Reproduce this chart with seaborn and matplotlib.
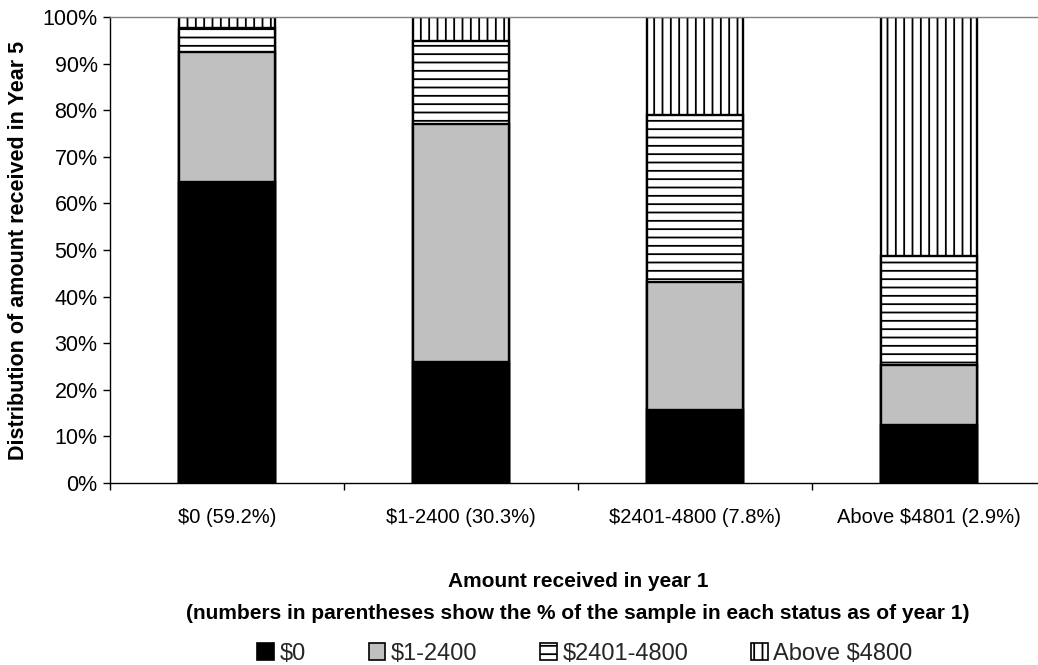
import matplotlib
matplotlib.use("Agg")
import matplotlib.pyplot as plt
from matplotlib.patches import Patch
from matplotlib.ticker import FixedLocator, PercentFormatter
import numpy as np
import pandas as pd
import seaborn as sns

# Year-1 status groups (share of sample in parentheses)
categories = ["$0 (59.2%)", "$1-2400 (30.3%)", "$2401-4800 (7.8%)", "Above $4801 (2.9%)"]

# Distribution of amount received in Year 5, % of each group
series_names = ["$0", "$1-2400", "$2401-4800", "Above $4800"]
share_zero = [64.5, 26.0, 15.6, 12.4]
share_1_2400 = [28.0, 51.0, 27.6, 13.0]
share_2401_4800 = [5.1, 17.8, 35.7, 23.4]
share_above_4800 = [2.4, 5.2, 21.1, 51.2]

sns.set_theme(style="white")
plt.rcParams["font.family"] = ["Liberation Sans", "DejaVu Sans"]
plt.rcParams["hatch.linewidth"] = 1.3
plt.rcParams["hatch.color"] = "black"

fills = ["#000000", "#C0C0C0", "#FFFFFF", "#FFFFFF"]
hatches = [None, None, "--", "||"]

shares = np.array([share_zero, share_1_2400, share_2401_4800, share_above_4800])
tops = np.cumsum(shares, axis=0)

fig = plt.figure(figsize=(10.38, 6.65), dpi=100)
ax = fig.add_axes([110 / 1038, (665 - 483) / 665, 936 / 1038, 466 / 665])

# Stack by overlaying cumulative bars, tallest first
for i in reversed(range(len(series_names))):
    df = pd.DataFrame({"status": categories, "top": tops[i]})
    sns.barplot(data=df, x="status", y="top", ax=ax, color=fills[i],
                saturation=1, width=0.41, edgecolor="black", linewidth=1.7,
                hatch=hatches[i], errorbar=None)

ax.set_ylim(0, 100)
ax.set_xlim(-0.5, 3.5)
ax.yaxis.set_major_locator(FixedLocator(np.arange(0, 101, 10)))
ax.yaxis.set_major_formatter(PercentFormatter(decimals=0))

ax.tick_params(axis="y", which="major", direction="out", length=5, width=1,
               color="black", left=True, labelsize=15.5, labelcolor="black", pad=4)
ax.tick_params(axis="x", which="major", length=0, labelsize=14.5,
               labelcolor="black", pad=18)
ax.xaxis.set_minor_locator(FixedLocator(np.arange(-0.5, 4, 1)))
ax.tick_params(axis="x", which="minor", direction="out", length=5, width=1,
               color="black", bottom=True)

for side in ["left", "bottom"]:
    ax.spines[side].set_color("black")
    ax.spines[side].set_linewidth(1.0)
ax.spines["top"].set_color("#808080")
ax.spines["top"].set_linewidth(1.0)
ax.spines["right"].set_visible(False)

ax.set_ylabel("Distribution of amount received in Year 5", fontsize=15.5,
              fontweight="bold", color="black")
ax.yaxis.set_label_coords(-0.0865, 0.5)
ax.set_xlabel("Amount received in year 1\n(numbers in parentheses show the % of the sample in each status as of year 1)",
              fontsize=15, fontweight="bold", color="black", linespacing=1.9)
ax.xaxis.set_label_coords(0.5, -0.19)

handles = [Patch(facecolor=fills[i], edgecolor="black", hatch=hatches[i],
                 linewidth=1.2, label=series_names[i]) for i in range(4)]
fig.legend(handles=handles, loc="center", bbox_to_anchor=(585 / 1038, 11 / 665),
           ncol=4, frameon=False, fontsize=17, handlelength=0.7,
           handleheight=0.7, handletextpad=0.25, columnspacing=2.65)

fig.savefig("out.png", dpi=100)
